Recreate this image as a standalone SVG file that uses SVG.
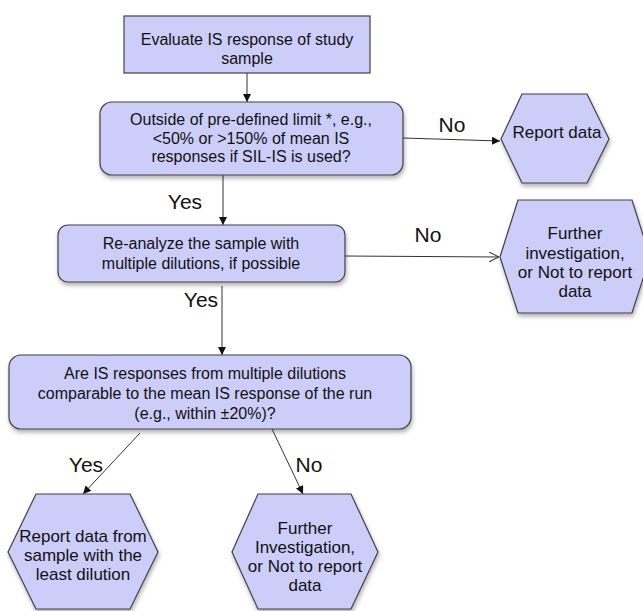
<svg xmlns="http://www.w3.org/2000/svg" width="643" height="611" viewBox="0 0 643 611">
<defs>
<style>
.box{fill:#cdcdfa;stroke:#404048;stroke-width:1.2}
.sh{filter:url(#shadow)}
.t{font-family:"Liberation Sans",Arial,sans-serif;font-size:16px;fill:#111;text-anchor:middle}
.th{font-family:"Liberation Sans",Arial,sans-serif;font-size:17px;fill:#111;text-anchor:middle}
.lbl{font-family:"Liberation Sans",Arial,sans-serif;font-size:21px;fill:#111;text-anchor:middle}
.c{fill:none;stroke:#333;stroke-width:1}
</style>
<filter id="shadow" x="-10%" y="-10%" width="125%" height="135%">
<feDropShadow dx="1" dy="3" stdDeviation="2" flood-color="#000" flood-opacity="0.3"/>
</filter>
<marker id="arr" viewBox="0 0 10 10" refX="10" refY="5" markerWidth="8" markerHeight="8" markerUnits="userSpaceOnUse" orient="auto">
<path d="M0,0 L10,5 L0,10 z" fill="#111"/>
</marker>
<marker id="open" viewBox="0 0 10 10" refX="10" refY="5" markerWidth="10" markerHeight="10" markerUnits="userSpaceOnUse" orient="auto">
<path d="M0,0 L10,5 L0,10" fill="none" stroke="#333" stroke-width="1"/>
</marker>
</defs>

<g id="connectors">
<line class="c" x1="247" y1="73" x2="247" y2="102" marker-end="url(#arr)"/>
<line class="c" x1="403" y1="138" x2="500" y2="141" marker-end="url(#arr)"/>
<line class="c" x1="223" y1="175" x2="223" y2="225" marker-end="url(#arr)"/>
<line class="c" x1="345" y1="256" x2="499" y2="257" marker-end="url(#open)"/>
<line class="c" x1="222" y1="286" x2="222" y2="355" marker-end="url(#arr)"/>
<line class="c" x1="140" y1="433" x2="83" y2="494" marker-end="url(#arr)"/>
<line class="c" x1="272" y1="429" x2="303" y2="494" marker-end="url(#arr)"/>
<text class="lbl" x="452" y="132">No</text>
<text class="lbl" x="185" y="209">Yes</text>
<text class="lbl" x="428" y="242">No</text>
<text class="lbl" x="201" y="307">Yes</text>
<text class="lbl" x="86" y="472">Yes</text>
<text class="lbl" x="309" y="472">No</text>
</g>

<g id="n1">
<rect class="box" x="124" y="16" width="246" height="57"/>
<text class="t" x="247" y="45">Evaluate IS response of study</text>
<text class="t" x="247" y="64">sample</text>
</g>

<g id="n2">
<rect class="box sh" x="100" y="102" width="303" height="73" rx="12"/>
<text class="t" x="251" y="125">Outside of pre-defined limit *, e.g.,</text>
<text class="t" x="251" y="143.5">&lt;50% or &gt;150% of mean IS</text>
<text class="t" x="251" y="162">responses if SIL-IS is used?</text>
</g>

<g id="n3">
<polygon class="box sh" points="501,139 522,94 587,94 609,139 587,183 522,183"/>
<text class="th" x="557" y="138">Report data</text>
</g>

<g id="n4">
<rect class="box sh" x="58" y="225" width="287" height="57" rx="10"/>
<text class="t" x="201" y="249">Re-analyze the sample with</text>
<text class="t" x="201" y="269">multiple dilutions, if possible</text>
</g>

<g id="n5">
<polygon class="box sh" points="500,257 518,200 632,200 650,257 632,313 518,313"/>
<text class="th" x="575" y="239">Further</text>
<text class="th" x="575" y="259">investigation,</text>
<text class="th" x="575" y="278">or Not to report</text>
<text class="th" x="575" y="297">data</text>
</g>

<g id="n6">
<rect class="box sh" x="9" y="355" width="402" height="74" rx="12"/>
<text class="t" x="205" y="379">Are IS responses from multiple dilutions</text>
<text class="t" x="205" y="399">comparable to the mean IS response of the run</text>
<text class="t" x="205" y="419">(e.g., within ±20%)?</text>
</g>

<g id="n7">
<polygon class="box sh" points="8,552 36,494 130,494 158,552 130,609 36,609"/>
<text class="th" x="83" y="542">Report data from</text>
<text class="th" x="83" y="561">sample with the</text>
<text class="th" x="83" y="580">least dilution</text>
</g>

<g id="n8">
<polygon class="box sh" points="232,552 258,494 351,494 378,552 351,609 258,609"/>
<text class="th" x="305" y="534">Further</text>
<text class="th" x="305" y="553">Investigation,</text>
<text class="th" x="305" y="572">or Not to report</text>
<text class="th" x="305" y="591">data</text>
</g>
</svg>
